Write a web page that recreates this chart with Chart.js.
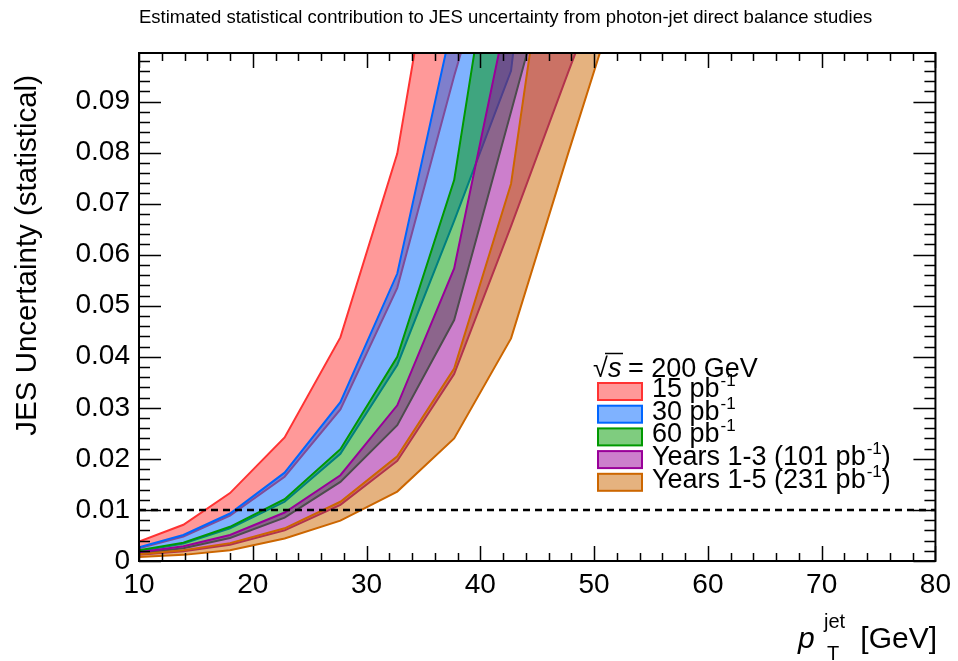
<!DOCTYPE html>
<html>
<head>
<meta charset="utf-8">
<script src="https://cdn.jsdelivr.net/npm/chart.js@4.4.0/dist/chart.umd.min.js"></script>
<style>
  html, body { margin: 0; padding: 0; background: #fff; }
</style>
</head>
<body>
<canvas id="chart" width="958" height="661"></canvas>
<script>
// pT points (GeV) where the uncertainty was evaluated
const ptPoints = [10, 13.9, 18, 22.8, 27.7, 32.7, 37.7, 42.7, 47.7, 52.7];

// band edges (values above the frame are clipped)
const lumi15Upper  = [0.0038, 0.0071, 0.0133, 0.0242, 0.0438, 0.0798, 0.145, 0.25, 0.40, 0.60];
const lumi15Lower  = [0.0025, 0.0048, 0.0089, 0.0165, 0.0297, 0.0535, 0.095, 0.133, 0.27, 0.40];
const lumi30Upper  = [0.0027, 0.0051, 0.0093, 0.0173, 0.0311, 0.0563, 0.107, 0.18, 0.28, 0.42];
const lumi30Lower  = [0.0019, 0.0034, 0.0064, 0.0116, 0.0210, 0.0384, 0.0666, 0.096, 0.19, 0.28];
const lumi60Upper  = [0.0021, 0.0036, 0.0067, 0.0121, 0.0219, 0.0400, 0.0746, 0.145, 0.20, 0.30];
const lumi60Lower  = [0.0015, 0.0025, 0.0045, 0.0085, 0.0155, 0.0266, 0.0472, 0.088, 0.129, 0.20];
const years13Upper = [0.0017, 0.0029, 0.0051, 0.0095, 0.0168, 0.0305, 0.0573, 0.111, 0.17, 0.25];
const years13Lower = [0.0012, 0.0019, 0.0032, 0.0060, 0.0110, 0.0196, 0.0366, 0.0656, 0.0956, 0.125];
const years15Upper = [0.0013, 0.0021, 0.0035, 0.0064, 0.0116, 0.0205, 0.0377, 0.0739, 0.151, 0.23];
const years15Lower = [0.0008, 0.0012, 0.0021, 0.0044, 0.0079, 0.0136, 0.0240, 0.0436, 0.0797, 0.115];

const refLevel = 0.01;
const xRange = [10, 80];
const yRange = [0, 0.0995];

const legendHeader = '= 200 GeV';
const legendLabels = [
    { main: '15 pb', sup: '-1', tail: '' },
    { main: '30 pb', sup: '-1', tail: '' },
    { main: '60 pb', sup: '-1', tail: '' },
    { main: 'Years 1-3 (101 pb', sup: '-1', tail: ')' },
    { main: 'Years 1-5 (231 pb', sup: '-1', tail: ')' }
];
const titleText = 'Estimated statistical contribution to JES uncertainty from photon-jet direct balance studies';
const yTitle = 'JES Uncertainty (statistical)';

const FONT = "'Liberation Sans', Arial, Helvetica, sans-serif";

const bands = [
    { upper: lumi15Upper,  lower: lumi15Lower,  line: 'rgb(255,51,51)', fill: 'rgba(255,51,51,0.5)' },
    { upper: lumi30Upper,  lower: lumi30Lower,  line: 'rgb(0,102,255)', fill: 'rgba(0,102,255,0.5)' },
    { upper: lumi60Upper,  lower: lumi60Lower,  line: 'rgb(0,153,0)',   fill: 'rgba(0,153,0,0.5)' },
    { upper: years13Upper, lower: years13Lower, line: 'rgb(153,0,153)', fill: 'rgba(153,0,153,0.5)' },
    { upper: years15Upper, lower: years15Lower, line: 'rgb(204,102,0)', fill: 'rgba(204,102,0,0.5)' }
];

const toPoints = arr => ptPoints.map((x, i) => ({ x: x, y: arr[i] }));

const datasets = [];
bands.forEach((b, i) => {
    // upper edge carries the fill down to the lower edge (next dataset)
    datasets.push({
        data: toPoints(b.upper), borderColor: b.line, backgroundColor: b.fill,
        borderWidth: 2, pointRadius: 0, tension: 0, fill: '+1', order: 100 - 2 * i
    });
    datasets.push({
        data: toPoints(b.lower), borderColor: b.line, backgroundColor: b.fill,
        borderWidth: 2, pointRadius: 0, tension: 0, fill: false, order: 99 - 2 * i
    });
});
datasets.push({
    data: [{ x: xRange[0], y: refLevel }, { x: xRange[1], y: refLevel }],
    borderColor: '#000', borderWidth: 2.5, borderDash: [7, 5],
    pointRadius: 0, fill: false, order: 0
});

// ROOT-like frame, inner ticks and texts
const rootDecor = {
    id: 'rootDecor',
    afterDraw(chart) {
        const ctx = chart.ctx;
        const a = chart.chartArea;
        const xs = chart.scales.x;
        const ys = chart.scales.y;
        ctx.save();
        ctx.strokeStyle = '#000';
        ctx.lineWidth = 2;
        ctx.strokeRect(a.left, a.top, a.right - a.left, a.bottom - a.top);

        ctx.beginPath();
        for (let v = xRange[0]; v <= xRange[1] + 1e-9; v += 2) {
            const px = Math.round(xs.getPixelForValue(v)) + 0.5;
            const len = (Math.round(v - xRange[0]) % 10 === 0) ? 15 : 8;
            ctx.moveTo(px, a.bottom); ctx.lineTo(px, a.bottom - len);
            ctx.moveTo(px, a.top); ctx.lineTo(px, a.top + len);
        }
        for (let k = 0; k * 0.002 <= yRange[1]; k++) {
            const py = Math.round(ys.getPixelForValue(k * 0.002)) + 0.5;
            const len = (k % 5 === 0) ? 22 : 11;
            ctx.moveTo(a.left, py); ctx.lineTo(a.left + len, py);
            ctx.moveTo(a.right, py); ctx.lineTo(a.right - len, py);
        }
        ctx.lineWidth = 1.5;
        ctx.stroke();

        ctx.fillStyle = '#000';
        ctx.textBaseline = 'alphabetic';

        // title
        ctx.font = '18.5px ' + FONT;
        ctx.textAlign = 'left';
        ctx.fillText(titleText, 139, 23);

        // y title
        ctx.save();
        ctx.translate(36, 75);
        ctx.rotate(-Math.PI / 2);
        ctx.textAlign = 'right';
        ctx.font = '29.5px ' + FONT;
        ctx.fillText(yTitle, 0, 0);
        ctx.restore();

        // x title: p_T^jet [GeV]
        ctx.textAlign = 'right';
        ctx.font = '30px ' + FONT;
        ctx.fillText('[GeV]', 937, 648);
        ctx.textAlign = 'left';
        ctx.font = 'italic 30px ' + FONT;
        ctx.fillText('p', 798, 648);
        ctx.font = '20px ' + FONT;
        ctx.fillText('jet', 824, 628);
        ctx.fillText('T', 827, 660);

        // legend
        const lx = 598;
        ctx.font = '27px ' + FONT;
        ctx.fillText('\u221A', 593, 377);
        ctx.font = 'italic 27px ' + FONT;
        ctx.fillText('s', 608, 377);
        ctx.beginPath();
        ctx.lineWidth = 1.5;
        ctx.moveTo(605, 353.5); ctx.lineTo(623, 353.5);
        ctx.stroke();
        ctx.font = '27px ' + FONT;
        ctx.fillText(legendHeader, 628, 377);

        legendLabels.forEach((lab, i) => {
            const top = 383 + 22.7 * i;
            const base = top + 14;
            ctx.fillStyle = '#fff';
            ctx.fillRect(lx, top, 44, 17);
            ctx.fillStyle = bands[i].fill;
            ctx.fillRect(lx, top, 44, 17);
            ctx.strokeStyle = bands[i].line;
            ctx.lineWidth = 2;
            ctx.strokeRect(lx, top, 44, 17);

            ctx.fillStyle = '#000';
            ctx.font = '27px ' + FONT;
            let tx = 652;
            ctx.fillText(lab.main, tx, base);
            tx += ctx.measureText(lab.main).width + 1;
            ctx.font = '17px ' + FONT;
            ctx.fillText(lab.sup, tx, base - 11);
            tx += ctx.measureText(lab.sup).width;
            ctx.font = '27px ' + FONT;
            if (lab.tail) ctx.fillText(lab.tail, tx, base);
        });
        ctx.restore();
    }
};

new Chart(document.getElementById('chart'), {
    type: 'line',
    data: { datasets: datasets },
    options: {
        responsive: false,
        animation: false,
        layout: { padding: { top: 53, right: 20, left: 0, bottom: 0 } },
        plugins: {
            legend: { display: false },
            title: { display: false },
            tooltip: { enabled: false }
        },
        scales: {
            x: {
                type: 'linear', min: xRange[0], max: xRange[1],
                grid: { display: false, drawTicks: false },
                border: { display: false },
                ticks: {
                    stepSize: 10, includeBounds: false, maxRotation: 0, padding: 7,
                    color: '#000', font: { size: 28, family: FONT }
                },
                afterFit: s => { s.height = 100; }
            },
            y: {
                type: 'linear', min: yRange[0], max: yRange[1],
                grid: { display: false, drawTicks: false },
                border: { display: false },
                ticks: {
                    stepSize: 0.01, includeBounds: false, padding: 9,
                    color: '#000', font: { size: 28, family: FONT },
                    callback: v => (Math.abs(v) < 1e-9 ? '0' : v.toFixed(2))
                },
                afterFit: s => { s.width = 139; }
            }
        }
    },
    plugins: [rootDecor]
});
</script>
</body>
</html>
